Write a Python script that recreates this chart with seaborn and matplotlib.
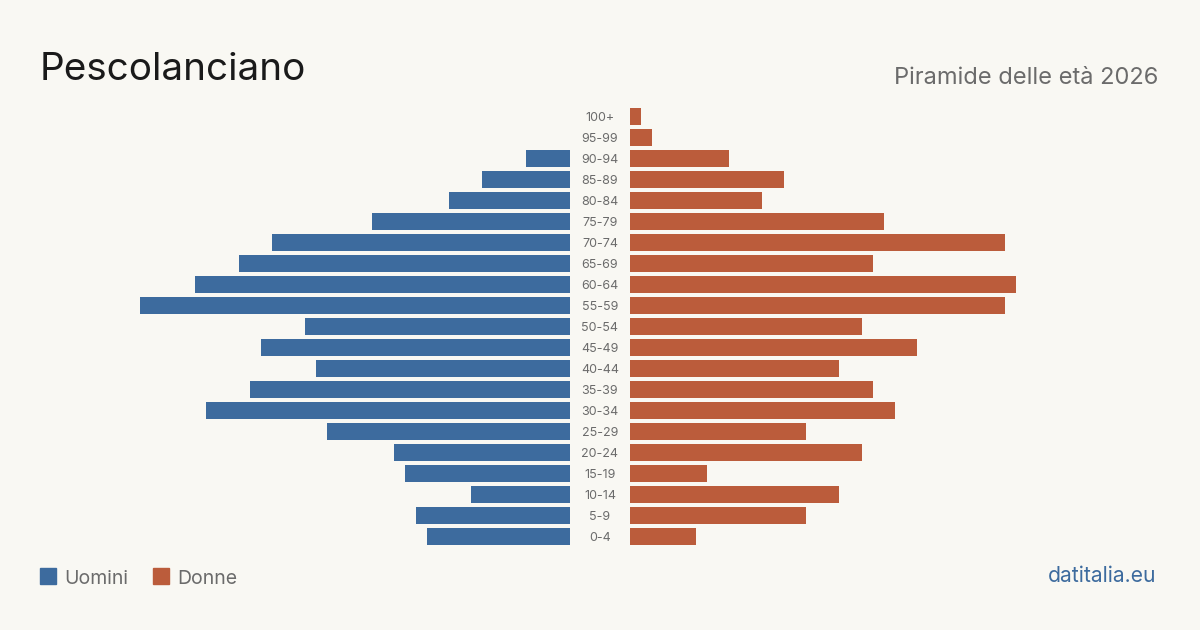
import pandas as pd
import seaborn as sns
import matplotlib.pyplot as plt

# age classes, top of the pyramid first
age_classes = ["100+", "95-99", "90-94", "85-89", "80-84", "75-79", "70-74",
               "65-69", "60-64", "55-59", "50-54", "45-49", "40-44", "35-39",
               "30-34", "25-29", "20-24", "15-19", "10-14", "5-9", "0-4"]
men = [0, 0, 4, 8, 11, 18, 27, 30, 34, 39, 24, 28, 23, 29, 33, 22, 16, 15, 9, 14, 13]
women = [1, 2, 9, 14, 12, 23, 34, 22, 35, 34, 21, 26, 19, 22, 24, 16, 21, 7, 19, 16, 6]

title = "Pescolanciano"
subtitle = "Piramide delle età 2026"
source = "datitalia.eu"

BG = "#f9f8f3"
BLUE = "#3d6b9e"
ORANGE = "#bb5c3b"
GREY = "#6b6b6b"

sns.set_theme(style="white")
plt.rcParams["font.family"] = ["Inter", "DejaVu Sans"]

df = pd.DataFrame({"eta": age_classes, "Uomini": men, "Donne": women})

W, H = 1200, 630
fig = plt.figure(figsize=(W / 100, H / 100), dpi=100, facecolor=BG)

xmax = max(max(men), max(women))
bar_w = 430  # px for the largest class
ax_bottom = (H - 546.8) / H
ax_height = 441 / H

ax_l = fig.add_axes([140 / W, ax_bottom, bar_w / W, ax_height])
ax_r = fig.add_axes([630 / W, ax_bottom, bar_w / W, ax_height])

sns.barplot(data=df, y="eta", x="Uomini", order=age_classes, color=BLUE,
            width=0.8, saturation=1, linewidth=0, ax=ax_l)
sns.barplot(data=df, y="eta", x="Donne", order=age_classes, color=ORANGE,
            width=0.8, saturation=1, linewidth=0, ax=ax_r)

ax_l.set_xlim(xmax, 0)
ax_r.set_xlim(0, xmax)
for ax in (ax_l, ax_r):
    ax.set_ylim(len(age_classes) - 0.5, -0.5)
    ax.set_facecolor("none")
    ax.axis("off")

# age labels between the two halves
for i, lab in enumerate(age_classes):
    ax_r.annotate(lab, xy=(0, i), xycoords="data", xytext=(-30, 0),
                  textcoords="offset pixels", ha="center", va="center_baseline",
                  fontsize=9, color=GREY, annotation_clip=False)

fig.text(40 / W, 1 - 79.5 / H, title, fontsize=27.8, color="#1a1a1a",
         ha="left", va="baseline")
fig.text(1158 / W, 1 - 83.5 / H, subtitle, fontsize=17, color=GREY,
         ha="right", va="baseline")

# legend
for x0, lab, col in [(40, "Uomini", BLUE), (153, "Donne", ORANGE)]:
    fig.patches.append(plt.Rectangle((x0 / W, 1 - 584 / H), 16 / W, 16 / H,
                                     transform=fig.transFigure, color=col))
    fig.text((x0 + 24) / W, 1 - 583.5 / H, lab, fontsize=14, color=GREY,
             ha="left", va="baseline")

fig.text(1156 / W, 1 - 582.5 / H, source, fontsize=15.2, color=BLUE,
         ha="right", va="baseline")

fig.savefig("out.png", dpi=100, facecolor=BG)
